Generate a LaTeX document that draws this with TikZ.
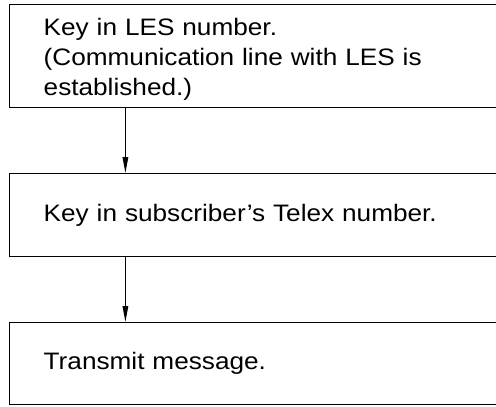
\documentclass[tikz,border=0pt]{standalone}
\usepackage{fontspec}
\setmainfont{Liberation Sans}[FakeStretch=1.1]
\usetikzlibrary{arrows.meta}

\tikzset{
  stepbox/.style={draw, line width=0.7pt, anchor=north west, minimum width=300pt,
    inner xsep=17pt, text width=266pt, align=left,
    font=\fontsize{11.9}{15}\selectfont},
  arr/.style={-{Triangle[length=8pt,width=2.8pt]}, line width=0.6pt}
}

\begin{document}
\begin{tikzpicture}
    \useasboundingbox (0,0) rectangle (248pt,-203pt);
    \clip (0,0) rectangle (248pt,-203pt);

    % Draw boxes
    \node[stepbox, minimum height=51.5pt] (les) at (4.5pt,-2pt)
        {\rule{0pt}{12pt}Key in LES number.\\(Communication line with LES is\\established.)};
    \node[stepbox, minimum height=41.5pt] (telex) at (4.5pt,-86.5pt)
        {Key in subscriber’s Telex number.};
    \node[stepbox, minimum height=41pt] (send) at (4.5pt,-161pt)
        {Transmit message.};

    % Draw arrows
    \coordinate (axis) at (62.7pt,0);
    \draw[arr] (les.south -| axis) -- (telex.north -| axis);
    \draw[arr] (telex.south -| axis) -- (send.north -| axis);
\end{tikzpicture}
\end{document}
